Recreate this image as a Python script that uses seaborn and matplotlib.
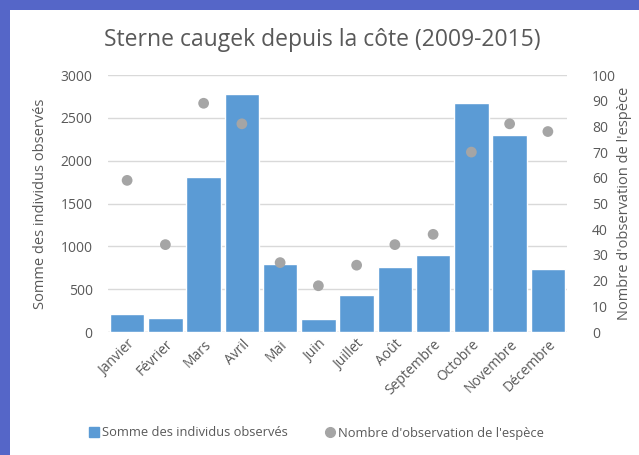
import matplotlib
matplotlib.use("Agg")
import matplotlib.pyplot as plt
from matplotlib.patches import Rectangle
from matplotlib.lines import Line2D
import pandas as pd
import seaborn as sns

months = ["Janvier", "Février", "Mars", "Avril", "Mai", "Juin",
          "Juillet", "Août", "Septembre", "Octobre", "Novembre", "Décembre"]
individus = [214, 159, 1807, 2782, 796, 152, 427, 758, 894, 2669, 2304, 730]
observations = [59, 34, 89, 81, 27, 18, 26, 34, 38, 70, 81, 78]

title = "Sterne caugek depuis la côte (2009-2015)"
left_label = "Somme des individus observés"
right_label = "Nombre d'observation de l'espèce"

df = pd.DataFrame({"mois": months, "individus": individus, "obs": observations})

sns.set_theme(style="white")
plt.rcParams["font.family"] = ["Open Sans", "DejaVu Sans"]
txt = "#595959"
bar_col = "#5b9bd5"
dot_col = "#a5a5a5"

fig = plt.figure(figsize=(6.39, 4.55), dpi=100)
fig.patch.set_facecolor("#5566c8")
# white chart card over the blue background
fig.patches.append(Rectangle((10 / 639, 0), 1, 1 - 10 / 455, transform=fig.transFigure,
                             facecolor="white", edgecolor="none", zorder=-10))

ax = fig.add_axes([108 / 639, 123 / 455, 459 / 639, 257 / 455])
ax.set_facecolor("none")
sns.barplot(data=df, x="mois", y="individus", color=bar_col, width=0.9,
            saturation=1, ax=ax, zorder=2)
ax.set_ylim(0, 3000)
ax.set_xlim(-0.5, 11.5)
ax.set_yticks(range(0, 3001, 500))
ax.yaxis.grid(True, color="#d9d9d9", linewidth=1)
ax.set_axisbelow(True)
for s in ax.spines.values():
    s.set_visible(False)
ax.axhline(0, color="#d9d9d9", linewidth=1, zorder=1)
ax.tick_params(axis="both", length=0, colors=txt, labelsize=10)
ax.tick_params(axis="y", pad=11)
ax.set_xticks(range(len(months)))
ax.set_xticklabels(months, rotation=45, ha="right", rotation_mode="anchor")
ax.set_xlabel("")
ax.set_ylabel(left_label, color=txt, fontsize=10.5, labelpad=9)

ax2 = ax.twinx()
sns.scatterplot(data=df, x="mois", y="obs", color=dot_col, s=60,
                edgecolor="none", ax=ax2, zorder=3)
ax2.set_ylim(0, 100)
ax2.set_yticks(range(0, 101, 10))
for s in ax2.spines.values():
    s.set_visible(False)
ax2.tick_params(axis="y", length=0, colors=txt, labelsize=10, pad=18)
ax2.set_ylabel(right_label, color=txt, fontsize=10.5, labelpad=1)
ax2.set_xlabel("")

fig.text(322 / 639, 1 - 40 / 455, title, ha="center", va="center", color=txt, fontsize=16.5)

handles = [
    Line2D([], [], marker="s", linestyle="", color=bar_col, markersize=7),
    Line2D([], [], marker="o", linestyle="", color=dot_col, markersize=7),
]
fig.legend(handles, [left_label, right_label], loc="center", bbox_to_anchor=(316 / 639, 1 - 433 / 455),
           ncol=2, frameon=False, fontsize=9.3, labelcolor=txt,
           handletextpad=0.1, columnspacing=2.8, handlelength=1)

fig.savefig("out.png", dpi=100, facecolor=fig.get_facecolor())
